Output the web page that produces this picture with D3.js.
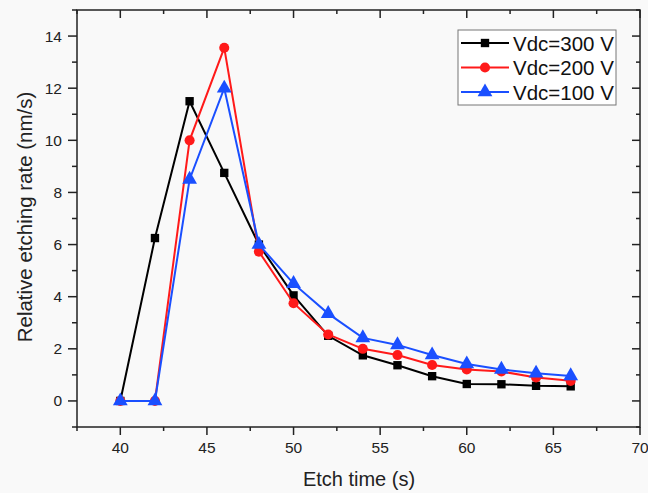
<!DOCTYPE html>
<html><head><meta charset="utf-8">
<script src="https://cdn.jsdelivr.net/npm/d3@7"></script>
<style>html,body{margin:0;padding:0;background:#f9f9f9;}svg{display:block;font-family:Arial,"Liberation Sans",sans-serif;}</style>
</head><body>
<script>
const times = [40,42,44,46,48,50,52,54,56,58,60,62,64,66];
const v300 = [0,6.25,11.5,8.75,6.0,4.05,2.5,1.75,1.37,0.95,0.65,0.64,0.58,0.56];
const v200 = [0,0,10.0,13.55,5.73,3.75,2.55,2.0,1.76,1.38,1.21,1.13,0.9,0.77];
const v100 = [0,0,8.5,12.0,6.0,4.5,3.35,2.42,2.15,1.76,1.42,1.21,1.06,0.96];
const seriesNames = ["Vdc=300 V","Vdc=200 V","Vdc=100 V"];
const xTicks = [40,45,50,55,60,65,70];
const yTicks = [0,2,4,6,8,10,12,14];

const W=648,H=493;
const L=77,R=640,T=10,B=427;
const svg=d3.select("body").append("svg").attr("width",W).attr("height",H);
svg.append("rect").attr("width",W).attr("height",H).attr("fill","#f9f9f9");
const x=d3.scaleLinear().domain([37.5,70]).range([L,R]);
const y=d3.scaleLinear().domain([-1,15]).range([B,T]);

const axCol="#222";
svg.append("rect").attr("x",L).attr("y",T).attr("width",R-L).attr("height",B-T)
  .attr("fill","none").attr("stroke",axCol).attr("stroke-width",1.5);

const xMinor=d3.range(37.5,70.01,2.5).filter(v=>v%5!==0);
const yMinor=d3.range(-1,15.01,2);
const g=svg.append("g").attr("stroke",axCol).attr("stroke-width",1.5);
xTicks.forEach(v=>{
  g.append("line").attr("x1",x(v)).attr("x2",x(v)).attr("y1",B).attr("y2",B+8);
  g.append("line").attr("x1",x(v)).attr("x2",x(v)).attr("y1",T).attr("y2",T+8);
});
xMinor.forEach(v=>{
  g.append("line").attr("x1",x(v)).attr("x2",x(v)).attr("y1",B).attr("y2",B+4);
  g.append("line").attr("x1",x(v)).attr("x2",x(v)).attr("y1",T).attr("y2",T+4);
});
yTicks.forEach(v=>{
  g.append("line").attr("y1",y(v)).attr("y2",y(v)).attr("x1",L).attr("x2",L-9);
  g.append("line").attr("y1",y(v)).attr("y2",y(v)).attr("x1",R).attr("x2",R-8);
});
yMinor.forEach(v=>{
  g.append("line").attr("y1",y(v)).attr("y2",y(v)).attr("x1",L).attr("x2",L-5);
  g.append("line").attr("y1",y(v)).attr("y2",y(v)).attr("x1",R).attr("x2",R-4);
});
svg.append("g").selectAll("text").data(xTicks).join("text")
  .attr("x",d=>x(d)).attr("y",453).attr("text-anchor","middle")
  .attr("font-size",15.5).attr("fill","#222").text(d=>d);
svg.append("g").selectAll("text").data(yTicks).join("text")
  .attr("x",62).attr("y",d=>y(d)+5.5).attr("text-anchor","end")
  .attr("font-size",15.5).attr("fill","#222").text(d=>d);
svg.append("text").attr("x",359).attr("y",486).attr("text-anchor","middle")
  .attr("font-size",20).attr("fill","#222").text("Etch time (s)");
svg.append("text").attr("transform",`translate(32,217) rotate(-90)`)
  .attr("text-anchor","middle").attr("font-size",20.5).attr("fill","#222")
  .text("Relative etching rate (nm/s)");

const colors=["#000000","#ff1a1a","#1a4fff"];
const allVals=[v300,v200,v100];
const shapes=[d3.symbolSquare,d3.symbolCircle,d3.symbolTriangle];
const sizes=[70,80,95];
const line=d3.line().x((d,i)=>x(times[i])).y(d=>y(d));
allVals.forEach((vals,k)=>{
  const gs=svg.append("g");
  gs.append("path").attr("d",line(vals)).attr("fill","none").attr("stroke",colors[k]).attr("stroke-width",2);
  gs.selectAll("path.m").data(vals).join("path").attr("class","m")
    .attr("transform",(d,i)=>`translate(${x(times[i])},${y(d)})`)
    .attr("d",d3.symbol().type(shapes[k]).size(sizes[k])).attr("fill",colors[k]);
});

const lg=svg.append("g");
lg.append("rect").attr("x",458).attr("y",30).attr("width",158).attr("height",75)
  .attr("fill","#ffffff").attr("stroke","#777").attr("stroke-width",1);
seriesNames.forEach((n,k)=>{
  const yy=43+k*24.5;
  lg.append("line").attr("x1",461).attr("x2",509).attr("y1",yy).attr("y2",yy).attr("stroke",colors[k]).attr("stroke-width",2);
  lg.append("path").attr("transform",`translate(485,${yy})`).attr("d",d3.symbol().type(shapes[k]).size(sizes[k])).attr("fill",colors[k]);
  lg.append("text").attr("x",513).attr("y",yy+7.5).attr("font-size",20.5).attr("fill","#111").text(n);
});
</script>
</body></html>
